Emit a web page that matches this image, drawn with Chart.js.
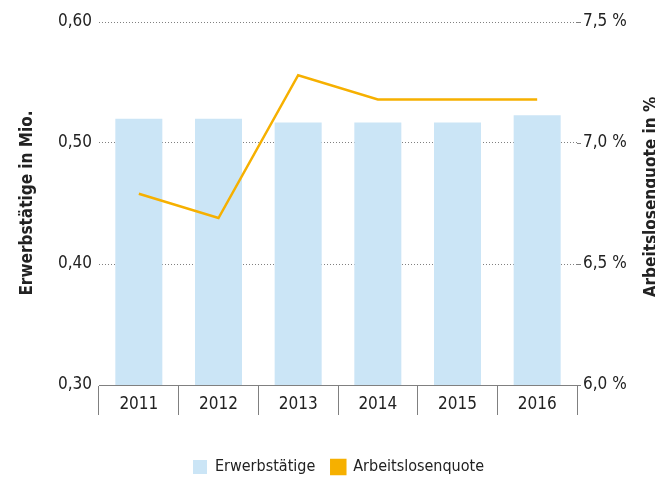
<!DOCTYPE html>
<html>
<head>
<meta charset="utf-8">
<script src="https://cdn.jsdelivr.net/npm/chart.js@4/dist/chart.umd.min.js"></script>
<style>
  html, body { margin: 0; padding: 0; background: #fff; }
</style>
</head>
<body>
<canvas id="chart" width="655" height="479"></canvas>
<script>
// data
const jahre = ["2011", "2012", "2013", "2014", "2015", "2016"];
const erwerbstaetige = [0.520, 0.520, 0.517, 0.517, 0.517, 0.523];
const arbeitslosenquote = [6.79, 6.69, 7.28, 7.18, 7.18, 7.18];

const FONT = "'DejaVu Sans Condensed', 'Liberation Sans', sans-serif";
const BLAU = "#cbe5f6";
const ORANGE = "#f6b000";
const GRAU = "#808080";
const TEXT = "#222222";

// Achsentitel (rechts ist er im Original abgeschnitten und von unten nach oben)
const titelPlugin = {
  id: "titel",
  afterDraw(chart) {
    const ctx = chart.ctx;
    ctx.save();
    ctx.fillStyle = TEXT;
    ctx.font = "bold 17px " + FONT;
    ctx.textAlign = "center";
    ctx.textBaseline = "alphabetic";
    ctx.translate(32, 203);
    ctx.rotate(-Math.PI / 2);
    ctx.fillText("Erwerbstätige in Mio.", 0, 0);
    ctx.restore();

    ctx.save();
    ctx.fillStyle = TEXT;
    ctx.font = "bold 17px " + FONT;
    ctx.textAlign = "center";
    ctx.textBaseline = "alphabetic";
    ctx.translate(656, 197);
    ctx.rotate(-Math.PI / 2);
    ctx.fillText("Arbeitslosenquote in %", 0, 0);
    ctx.restore();
  }
};

const data = {
  labels: jahre,
  datasets: [
    {
      type: "line",
      label: "Arbeitslosenquote",
      data: arbeitslosenquote,
      yAxisID: "y1",
      borderColor: ORANGE,
      backgroundColor: ORANGE,
      borderWidth: 2.5,
      pointRadius: 0,
      tension: 0,
      order: 0,
    },
    {
      type: "bar",
      label: "Erwerbstätige",
      data: erwerbstaetige,
      yAxisID: "y",
      backgroundColor: BLAU,
      barPercentage: 0.59,
      categoryPercentage: 1,
      order: 1,
    },
  ],
};

const config = {
  data,
  options: {
    responsive: false,
    animation: false,
    layout: {
      padding: { top: 22, bottom: -6, left: 22, right: 0 },
    },
    plugins: {
      legend: {
        position: "bottom",
        reverse: true,
        labels: {
          boxWidth: 14,
          boxHeight: 14,
          padding: 16,
          color: TEXT,
          font: { family: FONT, size: 16 },
        },
      },
      tooltip: { enabled: false },
    },
    scales: {
      x: {
        offset: true,
        grid: {
          offset: true,
          drawOnChartArea: false,
          color: GRAU,
          tickLength: 30,
        },
        border: { color: GRAU },
        ticks: {
          padding: -21,
          color: TEXT,
          font: { family: FONT, size: 17 },
        },
        afterFit(scale) {
          scale.height = 58;
        },
      },
      y: {
        position: "left",
        min: 0.3,
        max: 0.6,
        ticks: {
          stepSize: 0.1,
          padding: 7,
          color: TEXT,
          font: { family: FONT, size: 17 },
          callback: (v) => v.toFixed(2).replace(".", ","),
        },
        grid: {
          drawTicks: false,
          color: GRAU,
        },
        border: { display: false, dash: [1, 2] },
        afterFit(scale) {
          scale.width = 77;
        },
      },
      y1: {
        position: "right",
        min: 6.0,
        max: 7.5,
        ticks: {
          stepSize: 0.5,
          padding: 2,
          color: TEXT,
          font: { family: FONT, size: 17 },
          callback: (v) => v.toFixed(1).replace(".", ",") + " %",
        },
        grid: {
          drawOnChartArea: false,
          tickLength: 4,
          color: GRAU,
        },
        border: { display: false, dash: [1, 2] },
        afterFit(scale) {
          scale.width = 78;
        },
      },
    },
  },
  plugins: [titelPlugin],
};

new Chart(document.getElementById("chart"), config);
</script>
</body>
</html>
